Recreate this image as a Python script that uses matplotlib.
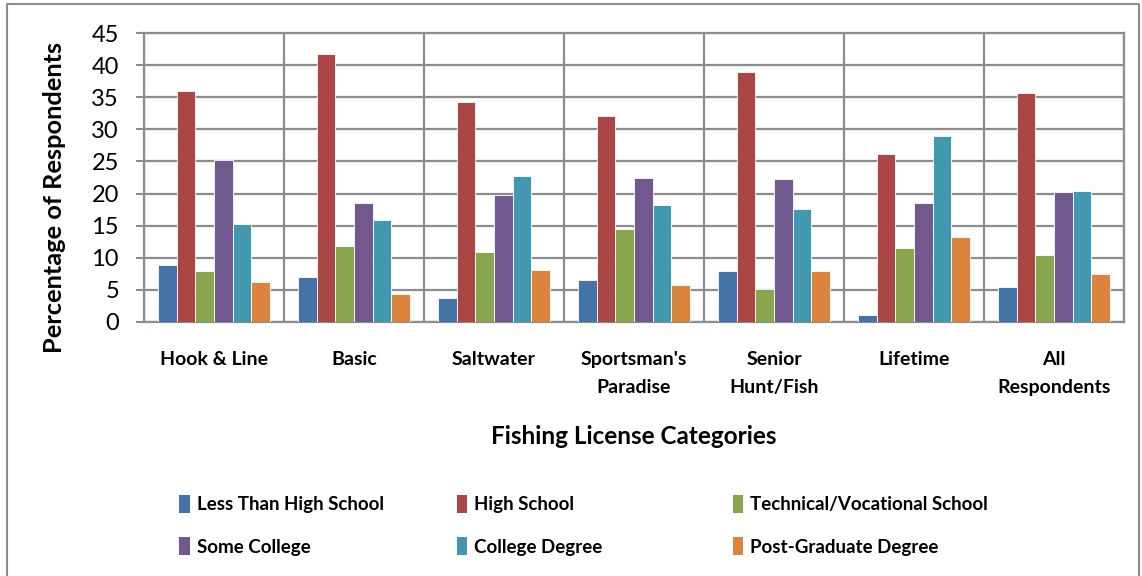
import numpy as np
import matplotlib
matplotlib.use("Agg")
import matplotlib.pyplot as plt
from matplotlib.lines import Line2D
from matplotlib.patches import Patch

plt.rcParams['font.family'] = ['Lato', 'DejaVu Sans']

categories = ["Hook & Line", "Basic", "Saltwater", "Sportsman's\nParadise",
              "Senior\nHunt/Fish", "Lifetime", "All\nRespondents"]
series_names = ["Less Than High School", "High School", "Technical/Vocational School",
                "Some College", "College Degree", "Post-Graduate Degree"]
less_than_hs = [8.9, 7.0, 3.8, 6.5, 7.9, 1.1, 5.4]
high_school = [35.9, 41.7, 34.2, 32.0, 39.0, 26.1, 35.7]
technical = [8.0, 11.9, 10.9, 14.5, 5.1, 11.6, 10.5]
some_college = [25.2, 18.5, 19.7, 22.5, 22.2, 18.5, 20.2]
college_degree = [15.3, 15.9, 22.8, 18.2, 17.6, 29.0, 20.4]
post_grad = [6.2, 4.4, 8.1, 5.8, 7.9, 13.3, 7.5]
colors = ["#4572A7", "#AA4643", "#89A54E", "#71588F", "#4198AF", "#DB843D"]

series = [less_than_hs, high_school, technical, some_college, college_degree, post_grad]

W, H = 1142, 576
fig = plt.figure(figsize=(W / 100, H / 100), dpi=100)
ax = fig.add_axes([144 / W, (H - 322) / H, (1124 - 144) / W, 289 / H])

x = np.arange(len(categories))
bw = 0.8 / len(series)
for i, (vals, c) in enumerate(zip(series, colors)):
    ax.bar(x - 0.4 + bw * (i + 0.5), vals, bw, color=c, edgecolor='white',
           linewidth=0.6, zorder=3, label=series_names[i])

grid_c = "#8c8c8c"
ax.set_xlim(-0.5, len(categories) - 0.5)
ax.set_ylim(0, 45)
ax.set_yticks(np.arange(0, 46, 5))
ax.set_xticks(x)
ax.set_xticklabels(categories, fontsize=14, fontweight='bold', linespacing=1.75)
ax.set_xticks(np.arange(-0.5, len(categories)), minor=True)
ax.tick_params(axis='x', which='both', length=0, pad=21)
ax.tick_params(axis='y', length=6, width=1.5, color=grid_c, labelsize=17, pad=12)
ax.grid(axis='y', color=grid_c, linewidth=1.6, zorder=0)
ax.grid(axis='x', which='minor', color=grid_c, linewidth=1.6, zorder=0)
for s in ax.spines.values():
    s.set_color(grid_c)
    s.set_linewidth(1.6)

ax.set_ylabel("Percentage of Respondents", fontsize=18.3, fontweight='bold')
ax.yaxis.set_label_coords((66 - 144) / 980, (322 - 197) / 289)
ax.set_xlabel("Fishing License Categories", fontsize=17.5, fontweight='bold', labelpad=21)

# legend: three columns, filled row by row
col_x = [172, 449, 725]
for k in range(3):
    idx = [k, k + 3]
    handles = [Patch(facecolor=colors[j], edgecolor='none') for j in idx]
    leg = fig.legend(handles, [series_names[j] for j in idx], loc='upper left',
                     bbox_to_anchor=(col_x[k] / W, 1 - 487 / H), ncol=1, frameon=False,
                     prop={'size': 13.5, 'weight': 'bold'}, handlelength=0.55,
                     handleheight=1.1, handletextpad=0.4, labelspacing=1.3,
                     borderaxespad=0)

# outer chart border
fig.add_artist(Line2D([7 / W, 7 / W, 1139 / W, 1139 / W], [0, 1 - 4 / H, 1 - 4 / H, 0],
                      color="#8c8c8c", linewidth=1.5))

fig.savefig("out.png", dpi=100, facecolor='white')
